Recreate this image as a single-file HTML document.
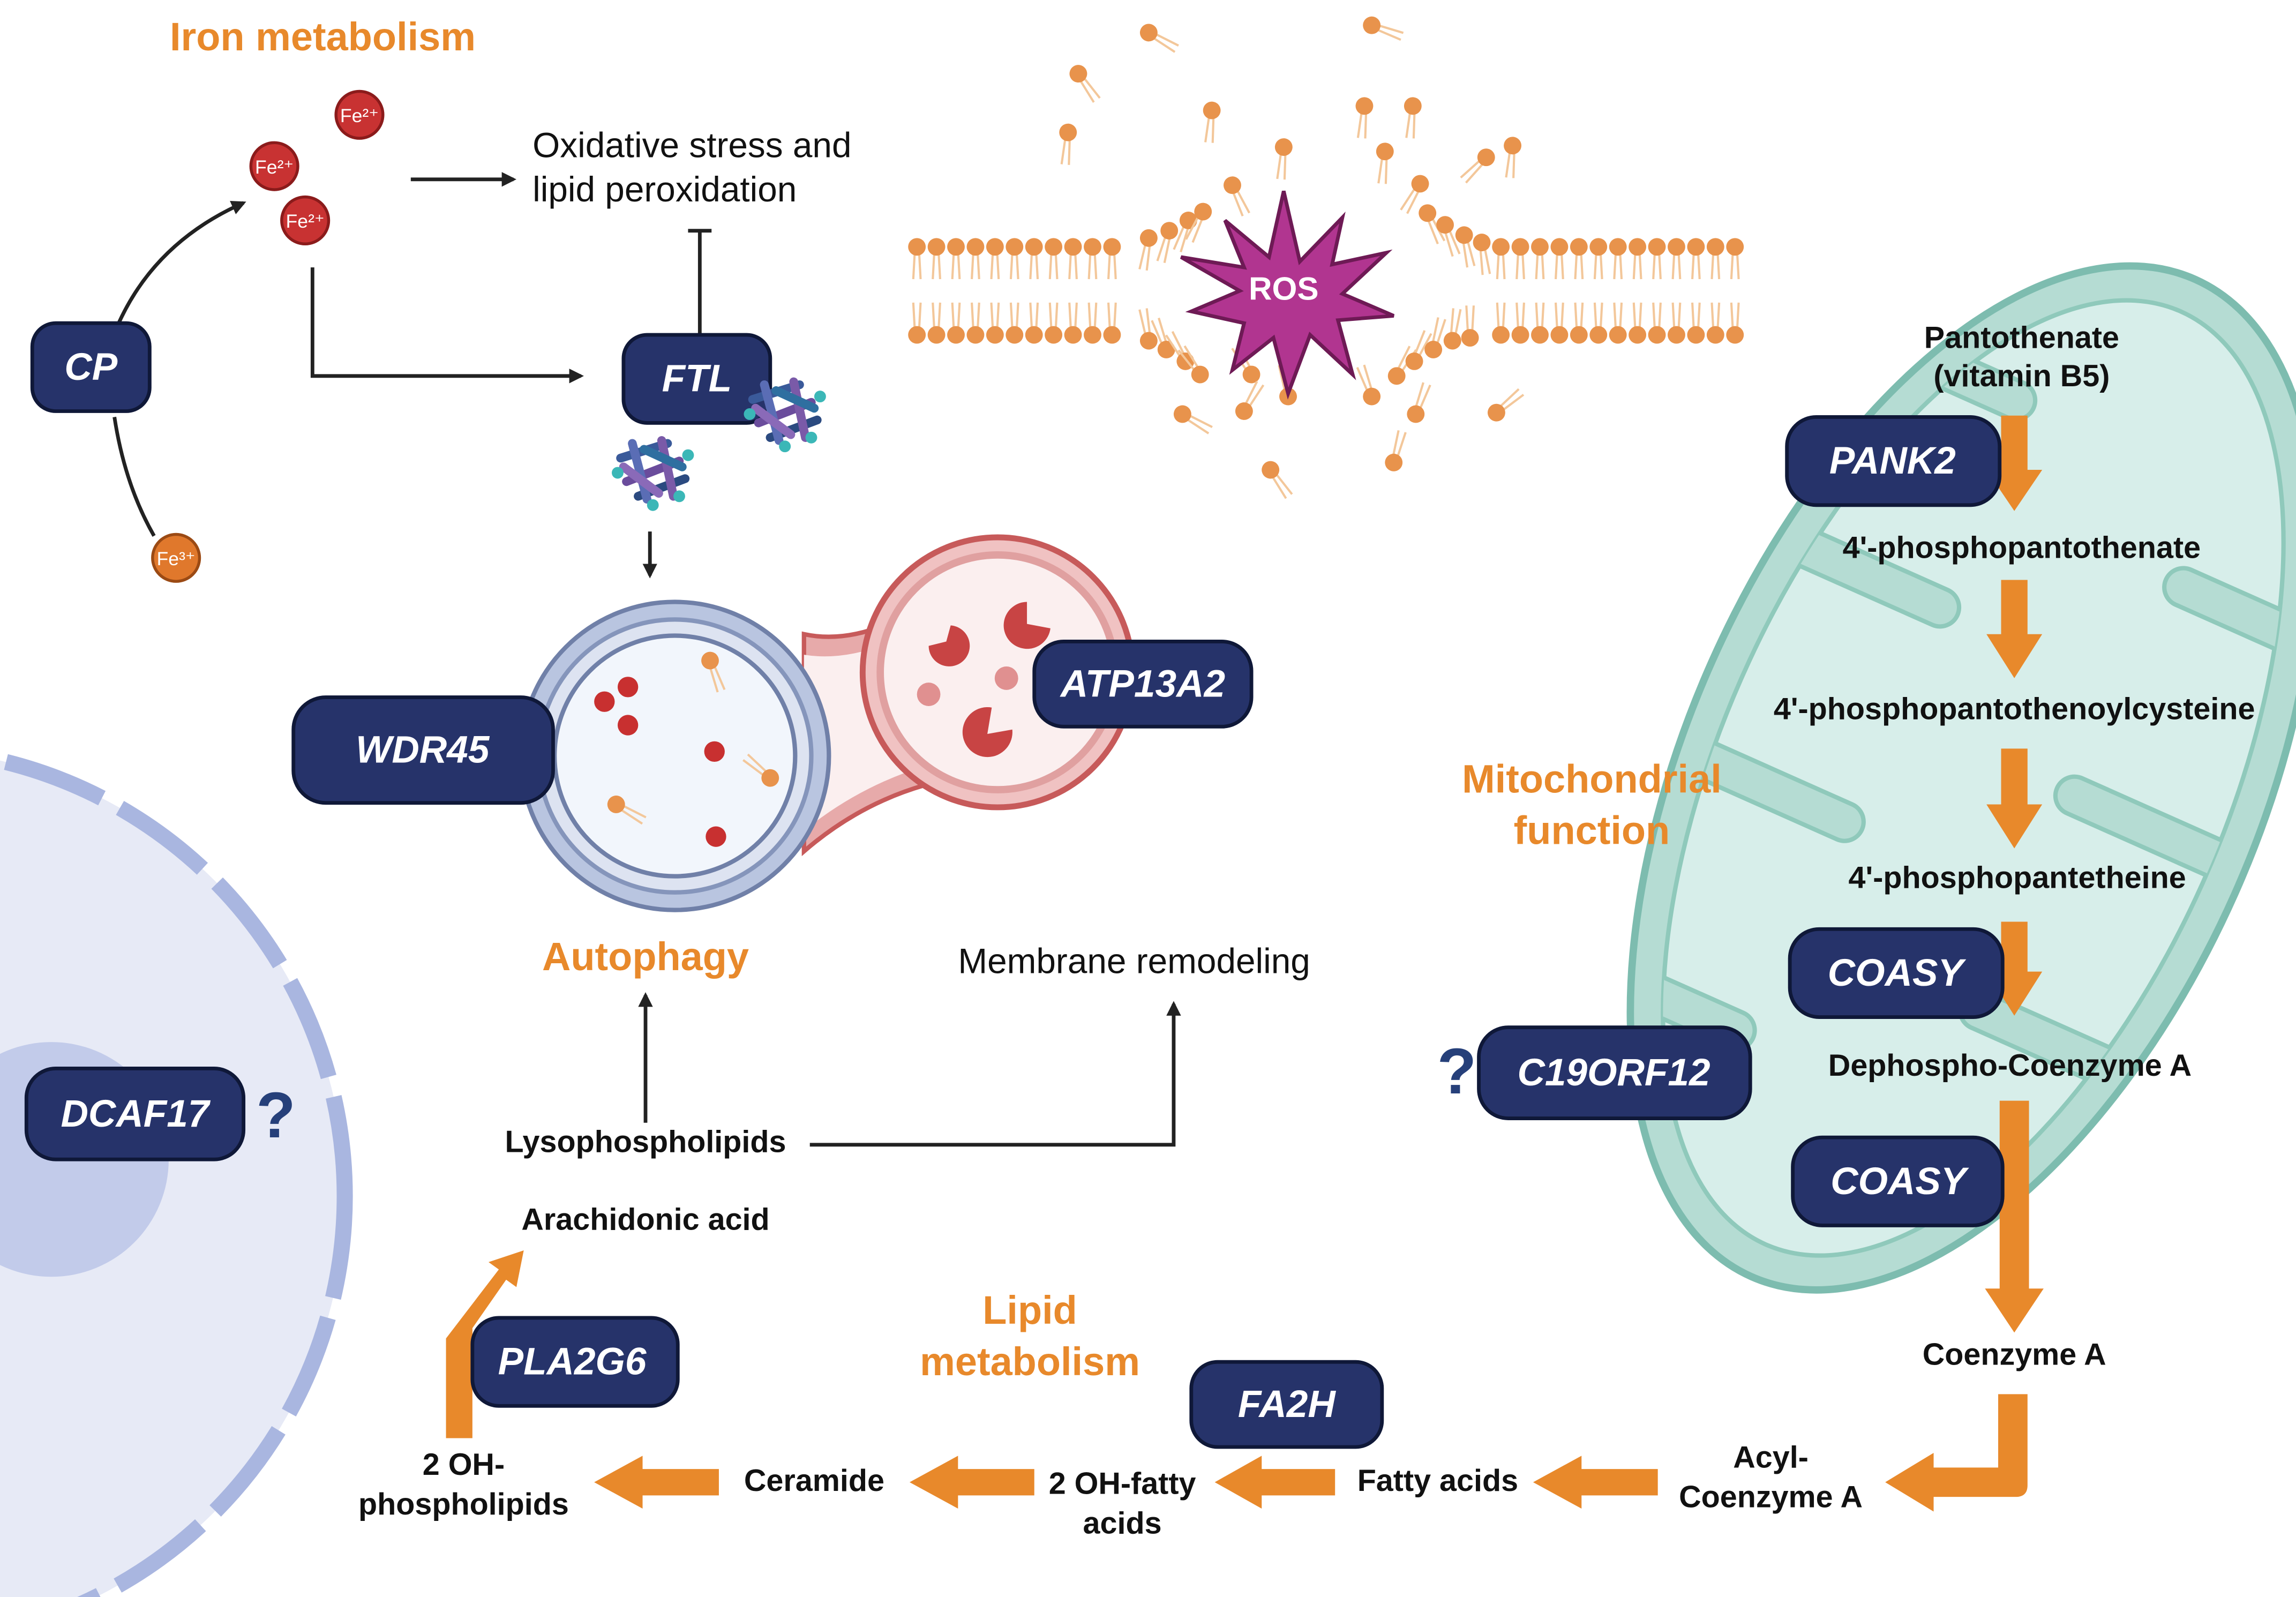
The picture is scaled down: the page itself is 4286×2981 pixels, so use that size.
<!DOCTYPE html>
<html><head><meta charset="utf-8"><style>
html,body{margin:0;padding:0;background:#fff}
svg{display:block}
text{font-family:"Liberation Sans",sans-serif}
.n rect{fill:#26336a;stroke:#0f1838;stroke-width:2.5}
.n text{fill:#fff;font-weight:bold;font-style:italic;font-size:26px;text-anchor:middle;dominant-baseline:central}
.o{fill:#e8892b;font-weight:bold;font-size:27px;text-anchor:middle}
.b{fill:#111;font-weight:bold;font-size:21px;text-anchor:middle}
.r{fill:#111;font-size:24px}
.ar{stroke:#222;stroke-width:2.5;fill:none}
.oa{fill:#e8892b}
</style></head><body>
<svg id="s" width="4286" height="2981" viewBox="0 0 1565 1088" xmlns="http://www.w3.org/2000/svg">
<defs>
<marker id="ah" markerWidth="10" markerHeight="10" refX="8" refY="5" orient="auto" markerUnits="userSpaceOnUse"><path d="M0,0 L10,5 L0,10 z" fill="#222"/></marker>
<g id="lip"><line x1="-1.5" y1="4" x2="-2.5" y2="22" stroke="#f3c79a" stroke-width="1.5"/><line x1="1.5" y1="4" x2="2.5" y2="22" stroke="#f3c79a" stroke-width="1.5"/><circle r="6" fill="#e8934c"/></g>
<g id="fer" stroke-linecap="round" stroke-width="6"><line x1="-22" y1="-8" x2="10" y2="-18" stroke="#3a5a9a"/><line x1="-18" y1="8" x2="18" y2="-6" stroke="#6a4c9c"/><line x1="-10" y1="18" x2="22" y2="6" stroke="#2b4a80"/><line x1="-14" y1="-18" x2="-4" y2="20" stroke="#5a6db5"/><line x1="6" y1="-20" x2="14" y2="18" stroke="#7a5aa8"/><line x1="-20" y1="-2" x2="4" y2="16" stroke="#8a6ab8"/><line x1="-6" y1="-14" x2="20" y2="-2" stroke="#2f6fa0"/><circle cx="-24" cy="2" r="4" fill="#3bb7b7" stroke="none"/><circle cx="24" cy="-10" r="4" fill="#3bb7b7" stroke="none"/><circle cx="0" cy="24" r="4" fill="#3bb7b7" stroke="none"/><circle cx="18" cy="18" r="4" fill="#3bb7b7" stroke="none"/></g>
<clipPath id="mc"><ellipse cx="1345" cy="530" rx="172" ry="348"/></clipPath>
</defs>

<circle cx="-70" cy="815" r="305" fill="#e7eaf6"/>
<circle cx="-70" cy="815" r="305" fill="none" stroke="#a9b6e0" stroke-width="11" stroke-dasharray="70 14"/>
<circle cx="35" cy="790" r="80" fill="#c2cbea"/>

<g transform="rotate(24 1345 530)">
<ellipse cx="1345" cy="530" rx="195" ry="372" fill="#b5dcd3" stroke="#7dbcaf" stroke-width="5"/>
<ellipse cx="1345" cy="530" rx="172" ry="348" fill="#d7eeea" stroke="#8fc9bb" stroke-width="3"/>
<g clip-path="url(#mc)" fill="#b5dcd3" stroke="#8fc9bb" stroke-width="3">
<rect x="1150" y="270" width="130" height="26" rx="13"/>
<rect x="1410" y="340" width="130" height="26" rx="13"/>
<rect x="1150" y="420" width="140" height="26" rx="13"/>
<rect x="1400" y="500" width="140" height="26" rx="13"/>
<rect x="1150" y="580" width="140" height="26" rx="13"/>
<rect x="1400" y="660" width="140" height="26" rx="13"/>
<rect x="1150" y="740" width="130" height="26" rx="13"/>
</g>
</g>

<text class="o" x="220" y="34">Iron metabolism</text>
<g font-size="13" fill="#fff" text-anchor="middle">
<circle cx="245" cy="78" r="16" fill="#c83232" stroke="#8b1b1b" stroke-width="2"/><text x="245" y="83">Fe²⁺</text>
<circle cx="187" cy="113" r="16" fill="#c83232" stroke="#8b1b1b" stroke-width="2"/><text x="187" y="118">Fe²⁺</text>
<circle cx="208" cy="150" r="16" fill="#c83232" stroke="#8b1b1b" stroke-width="2"/><text x="208" y="155">Fe²⁺</text>
<circle cx="120" cy="380" r="16" fill="#e0782c" stroke="#9b4a14" stroke-width="2"/><text x="120" y="385">Fe³⁺</text>
</g>
<path class="ar" d="M80,222 Q105,165 166,138" marker-end="url(#ah)"/>
<path class="ar" d="M105,365 Q85,330 78,284"/>
<line class="ar" x1="280" y1="122" x2="350" y2="122" marker-end="url(#ah)"/>
<text class="r" x="363" y="107">Oxidative stress and</text>
<text class="r" x="363" y="137">lipid peroxidation</text>
<path class="ar" d="M213,182 V256 H396" marker-end="url(#ah)"/>
<path class="ar" d="M477,228 V157 M469,157 H485"/>
<g class="n"><rect x="22" y="220" width="80" height="60" rx="16"/><text x="62" y="250">CP</text></g>
<g class="n"><rect x="425" y="228" width="100" height="60" rx="16"/><text x="475" y="258">FTL</text></g>
<use href="#fer" transform="translate(445,320)"/>
<use href="#fer" transform="translate(535,280)"/>
<line class="ar" x1="443" y1="362" x2="443" y2="392" marker-end="url(#ah)"/>

<path d="M548,432 Q585,440 630,412 L630,535 Q585,548 548,580 z" fill="#e7aaaa" stroke="#c75a5a" stroke-width="3"/>
<path d="M548,446 Q585,452 630,426 L630,522 Q585,536 548,566 z" fill="#fbefef"/>
<circle cx="680" cy="458" r="92" fill="#f0c2c2" stroke="#c75a5a" stroke-width="4"/>
<circle cx="680" cy="458" r="80" fill="#fbefef" stroke="#e0a0a0" stroke-width="5"/>
<circle cx="460" cy="515" r="105" fill="#b9c5e0" stroke="#7080a8" stroke-width="3"/>
<circle cx="460" cy="515" r="93" fill="#dde3f1" stroke="#8595bb" stroke-width="3"/>
<circle cx="460" cy="515" r="82" fill="#f2f6fc" stroke="#7080a8" stroke-width="3"/>
<g fill="#c83030"><circle cx="412" cy="478" r="7"/><circle cx="428" cy="468" r="7"/><circle cx="428" cy="494" r="7"/><circle cx="487" cy="512" r="7"/><circle cx="488" cy="570" r="7"/></g>
<g fill="#c84444"><path d="M645,437 L633,440 A14,14 0 1 0 648,426 z"/><path d="M700,425 L716,428 A16,16 0 1 1 700,410 z"/><path d="M673,500 L690,497 A17,17 0 1 1 676,482 z"/></g>
<g fill="#e09090"><circle cx="633" cy="473" r="8"/><circle cx="686" cy="462" r="8"/></g>
<use href="#lip" transform="translate(484,450) rotate(-20)"/>
<use href="#lip" transform="translate(525,530) rotate(130)"/>
<use href="#lip" transform="translate(420,548) rotate(-60)"/>
<g class="n"><rect x="200" y="475" width="177" height="72" rx="22"/><text x="288" y="511" font-size="30">WDR45</text></g>
<g class="n"><rect x="705" y="437" width="148" height="58" rx="20"/><text x="779" y="466">ATP13A2</text></g>

<text class="o" x="440" y="661">Autophagy</text>
<text class="r" x="653" y="663">Membrane remodeling</text>
<line class="ar" x1="440" y1="765" x2="440" y2="678" marker-end="url(#ah)"/>
<text class="b" x="440" y="785">Lysophospholipids</text>
<path class="ar" d="M552,780 H800 V684" marker-end="url(#ah)"/>
<text class="b" x="440" y="838">Arachidonic acid</text>

<g id="mem"></g>
<path d="M875,130 L886,178 L915,148 L908,180 L945,172 L915,200 L950,215 L912,218 L922,255 L893,228 L878,268 L868,230 L840,252 L848,220 L812,212 L845,198 L805,175 L848,182 L835,150 L865,175 z" fill="#b13590" stroke="#6e1a55" stroke-width="2.5"/>
<text x="875" y="204" fill="#fff" font-weight="bold" font-size="22" text-anchor="middle">ROS</text>

<path class="oa" d="M304,980 V912 L340,865 L333,860 L357,852 L352,877 L345,872 L322,905 V980 z"/>
<g class="n"><rect x="322" y="898" width="140" height="60" rx="18"/><text x="390" y="928">PLA2G6</text></g>
<text class="o" x="702" y="902">Lipid</text>
<text class="o" x="702" y="937">metabolism</text>
<g class="n"><rect x="812" y="928" width="130" height="58" rx="18"/><text x="877" y="957">FA2H</text></g>
<text class="b" x="316" y="1005">2 OH-</text>
<text class="b" x="316" y="1032">phospholipids</text>
<text class="b" x="555" y="1016">Ceramide</text>
<text class="b" x="765" y="1018">2 OH-fatty</text>
<text class="b" x="765" y="1045">acids</text>
<text class="b" x="980" y="1016">Fatty acids</text>
<text class="b" x="1207" y="1000">Acyl-</text>
<text class="b" x="1207" y="1027">Coenzyme A</text>
<g class="oa">
<path d="M490,1001 H438 V992 L405,1010 L438,1028 V1019 H490 z"/>
<path d="M705,1001 H653 V992 L620,1010 L653,1028 V1019 H705 z"/>
<path d="M910,1001 H860 V992 L828,1010 L860,1028 V1019 H910 z"/>
<path d="M1130,1001 H1078 V992 L1045,1010 L1078,1028 V1019 H1130 z"/>
<path d="M1362,950 H1382 V1012 Q1382,1020 1374,1020 H1318 V1030 L1285,1010 L1318,990 V1000 H1362 z"/>
</g>

<text class="o" x="1085" y="540">Mitochondrial</text>
<text class="o" x="1085" y="575">function</text>
<g class="oa">
<path d="M1364,283 H1382 V320 H1392 L1373,348 L1354,320 H1364 z"/>
<path d="M1364,395 H1382 V432 H1392 L1373,462 L1354,432 H1364 z"/>
<path d="M1364,510 H1382 V548 H1392 L1373,578 L1354,548 H1364 z"/>
<path d="M1364,628 H1382 V662 H1392 L1373,692 L1354,662 H1364 z"/>
<path d="M1363,750 H1383 V878 H1393 L1373,908 L1353,878 H1363 z"/>
</g>
<text class="b" x="1378" y="237">Pantothenate</text>
<text class="b" x="1378" y="263">(vitamin B5)</text>
<text class="b" x="1378" y="380">4'-phosphopantothenate</text>
<text class="b" x="1373" y="490">4'-phosphopantothenoylcysteine</text>
<text class="b" x="1375" y="605">4'-phosphopantetheine</text>
<text class="b" x="1370" y="733">Dephospho-Coenzyme A</text>
<text class="b" x="1373" y="930">Coenzyme A</text>
<g class="n"><rect x="1218" y="284" width="145" height="60" rx="20"/><text x="1290" y="314">PANK2</text></g>
<g class="n"><rect x="1220" y="633" width="145" height="60" rx="20"/><text x="1292" y="663">COASY</text></g>
<g class="n"><rect x="1222" y="775" width="143" height="60" rx="20"/><text x="1294" y="805">COASY</text></g>
<g class="n"><rect x="1008" y="700" width="185" height="62" rx="20"/><text x="1100" y="731">C19ORF12</text></g>
<text x="993" y="745" fill="#26407a" font-weight="bold" font-size="44" text-anchor="middle">?</text>
<g class="n"><rect x="18" y="728" width="148" height="62" rx="20"/><text x="92" y="759">DCAF17</text></g>
<text x="188" y="775" fill="#26407a" font-weight="bold" font-size="44" text-anchor="middle">?</text>
</svg>
<script>
var g=document.getElementById('mem'),h='';
function L(x,y,r){h+='<use href="#lip" transform="translate('+x+','+y+') rotate('+r+')"/>';}
for(var x=625;x<=770;x+=13.3){L(x,168,0);L(x,228,180);}
[[783,162,10],[797,157,15],[810,150,20],[820,144,25]].forEach(function(a){L(a[0],a[1],a[2]);});
[[783,232,170],[795,238,160],[808,246,150],[818,255,145]].forEach(function(a){L(a[0],a[1],a[2]);});
[[973,145,-25],[985,153,-20],[998,160,-12],[1010,165,-8]].forEach(function(a){L(a[0],a[1],a[2]);});
[[952,256,-150],[964,246,-155],[977,238,-165],[990,232,-172],[1002,230,180]].forEach(function(a){L(a[0],a[1],a[2]);});
for(var x=1023;x<=1190;x+=13.3){L(x,168,0);L(x,228,180);}
[[735,50,-35],[783,22,-60],[728,90,5],[826,75,5],[875,100,5],[935,17,-70],[930,72,5],[963,72,5],[944,103,5],[1031,99,5],[1013,107,45],[968,125,30],[840,126,-25],[853,255,150],[848,280,210],[806,282,-60],[878,270,170],[935,270,160],[950,315,195],[965,282,200],[1020,281,230],[866,320,-35]].forEach(function(a){L(a[0],a[1],a[2]);});
g.innerHTML=h;
</script>
</body></html>
